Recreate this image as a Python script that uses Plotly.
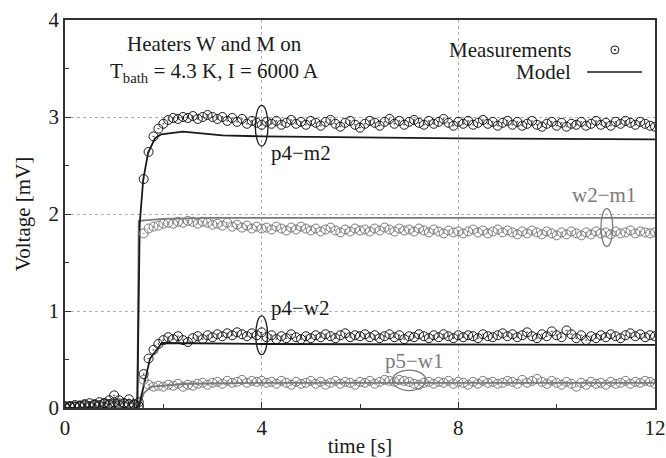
import numpy as np
import plotly.graph_objects as go

# ---------------- data ----------------
time_s = np.round(np.arange(0, 12.001, 0.1), 1)

p4_m2_meas = [0.02,0.01,0.03,0.02,0.04,0.05,0.03,0.06,0.05,0.08,0.13,0.08,0.05,0.09,0.04,0.06,
              2.36,2.64,2.80,2.88,2.93,
              2.97,2.99,2.98,3.00,2.99,3.01,2.98,3.00,3.02,3.00,
              2.98,3.00,2.96,2.99,2.95,2.98,2.93,2.96,2.94,2.92,
              2.95,2.93,2.96,2.92,2.94,2.97,2.93,2.95,2.92,2.96,
              2.94,2.91,2.95,2.97,2.93,2.90,2.94,2.96,2.92,2.89,
              2.93,2.96,2.94,2.91,2.95,2.98,2.93,2.96,2.92,2.95,
              2.97,2.94,2.92,2.96,2.93,2.95,2.98,2.94,2.91,2.95,
              2.93,2.96,2.92,2.94,2.97,2.93,2.95,2.91,2.94,2.96,
              2.92,2.95,2.91,2.93,2.96,2.92,2.90,2.93,2.95,2.91,
              2.94,2.90,2.93,2.92,2.95,2.91,2.93,2.96,2.92,2.94,
              2.91,2.95,2.93,2.96,2.94,2.92,2.95,2.93,2.91,2.90]

w2_m1_meas = [0.01,0.02,0.01,0.03,0.02,0.01,0.03,0.02,0.04,0.02,0.03,0.05,0.02,0.04,0.03,0.02,
              1.80,1.85,1.87,1.88,1.90,
              1.91,1.90,1.92,1.91,1.93,1.92,1.90,1.92,1.91,1.89,
              1.90,1.88,1.91,1.87,1.89,1.86,1.88,1.85,1.87,1.85,
              1.86,1.84,1.87,1.85,1.83,1.86,1.84,1.87,1.85,1.83,
              1.85,1.82,1.84,1.86,1.83,1.81,1.84,1.82,1.85,1.83,
              1.84,1.82,1.85,1.83,1.86,1.84,1.82,1.85,1.83,1.84,
              1.82,1.85,1.83,1.81,1.84,1.82,1.80,1.83,1.81,1.82,
              1.80,1.82,1.84,1.81,1.83,1.80,1.82,1.84,1.81,1.83,
              1.81,1.79,1.82,1.80,1.83,1.81,1.79,1.82,1.80,1.78,
              1.81,1.79,1.82,1.80,1.78,1.81,1.79,1.82,1.80,1.81,
              1.79,1.82,1.80,1.81,1.83,1.80,1.82,1.81,1.80,1.81]

p4_w2_meas = [0.01,0.02,0.01,0.02,0.03,0.02,0.04,0.03,0.05,0.04,0.06,0.03,0.05,0.04,0.03,0.02,
              0.35,0.51,0.60,0.66,0.70,
              0.73,0.71,0.74,0.70,0.68,0.72,0.74,0.71,0.75,0.73,
              0.76,0.74,0.77,0.75,0.78,0.76,0.74,0.77,0.75,0.78,
              0.73,0.75,0.71,0.74,0.72,0.76,0.73,0.71,0.74,0.72,
              0.75,0.73,0.76,0.74,0.72,0.75,0.77,0.73,0.75,0.74,
              0.76,0.73,0.75,0.72,0.74,0.76,0.73,0.75,0.71,0.74,
              0.73,0.76,0.74,0.72,0.75,0.73,0.76,0.74,0.72,0.75,
              0.73,0.75,0.74,0.72,0.76,0.74,0.73,0.75,0.77,0.74,
              0.76,0.73,0.75,0.78,0.74,0.72,0.76,0.74,0.79,0.75,
              0.73,0.80,0.76,0.72,0.75,0.70,0.74,0.72,0.75,0.73,
              0.76,0.74,0.72,0.75,0.77,0.74,0.76,0.73,0.75,0.74]

p5_w1_meas = [0.00,0.01,0.02,0.01,0.02,0.01,0.03,0.02,0.01,0.03,0.02,0.04,0.02,0.03,0.01,0.02,
              0.29,0.24,0.22,0.23,0.22,
              0.24,0.23,0.25,0.22,0.24,0.23,0.25,0.26,0.24,0.26,
              0.27,0.25,0.28,0.26,0.27,0.29,0.26,0.28,0.27,0.28,
              0.26,0.27,0.25,0.28,0.26,0.24,0.27,0.25,0.26,0.28,
              0.25,0.27,0.24,0.26,0.28,0.25,0.27,0.26,0.24,0.27,
              0.26,0.28,0.25,0.27,0.29,0.28,0.27,0.29,0.28,0.27,
              0.25,0.24,0.26,0.27,0.25,0.27,0.26,0.28,0.25,0.27,
              0.26,0.24,0.27,0.25,0.28,0.26,0.27,0.25,0.26,0.28,
              0.27,0.25,0.29,0.26,0.28,0.30,0.27,0.25,0.28,0.26,
              0.24,0.27,0.25,0.22,0.26,0.24,0.27,0.25,0.26,0.24,
              0.27,0.25,0.26,0.28,0.25,0.27,0.26,0.28,0.27,0.25]

model_t_p4_m2 = [0, 1.47, 1.52, 1.59, 1.69, 1.83, 1.95, 2.4, 3.2, 4.0, 8.0, 12.0]
model_p4_m2 = [0, 0, 1.90, 2.35, 2.63, 2.78, 2.82, 2.85, 2.81, 2.80, 2.78, 2.77]

model_t_w2_m1 = [0, 1.47, 1.50, 2.0, 3.0, 12.0]
model_w2_m1 = [0, 0, 1.93, 1.95, 1.96, 1.96]

model_t_p4_w2 = [0, 1.50, 1.73, 1.97, 4.0, 12.0]
model_p4_w2 = [0, 0.01, 0.51, 0.67, 0.66, 0.65]

model_t_p5_w1 = [0, 1.50, 1.60, 1.75, 2.5, 4.0, 12.0]
model_p5_w1 = [0, 0, 0.15, 0.22, 0.25, 0.26, 0.26]

x_ticks = [0, 4, 8, 12]
y_ticks = [0, 1, 2, 3, 4]

# ---------------- styles ----------------
BLACK = "#1a1a1a"
GRAY = "#7a7a7a"
FONT = "'Liberation Serif', 'Times New Roman', Times, serif"
FS = 21

fig = go.Figure()

for tx, vy, col in [(model_t_w2_m1, model_w2_m1, GRAY),
                    (model_t_p5_w1, model_p5_w1, GRAY),
                    (model_t_p4_m2, model_p4_m2, BLACK),
                    (model_t_p4_w2, model_p4_w2, BLACK)]:
    fig.add_trace(go.Scatter(x=tx, y=vy, mode="lines",
                             line=dict(color=col, width=1.8),
                             showlegend=False, hoverinfo="skip"))

for vals, col in [(w2_m1_meas, GRAY), (p5_w1_meas, GRAY),
                  (p4_m2_meas, BLACK), (p4_w2_meas, BLACK)]:
    fig.add_trace(go.Scatter(x=time_s, y=vals, mode="markers",
                             marker=dict(symbol="circle-open-dot", size=9, color=col,
                                         line=dict(width=1, color=col)),
                             showlegend=False))

shapes = []
# ellipses marking the curves
for (cx, cy, wx, hy, col) in [(4.0, 2.91, 0.13, 0.21, BLACK),
                              (11.02, 1.86, 0.12, 0.195, GRAY),
                              (4.0, 0.75, 0.12, 0.20, BLACK),
                              (7.0, 0.285, 0.34, 0.105, GRAY)]:
    shapes.append(dict(type="circle", xref="x", yref="y",
                       x0=cx - wx, x1=cx + wx, y0=cy - hy, y1=cy + hy,
                       line=dict(color=col, width=1.3)))

# legend keys
shapes.append(dict(type="circle", xref="paper", yref="paper", xsizemode="pixel",
                   ysizemode="pixel", xanchor=0.932, yanchor=0.923,
                   x0=-4, x1=4, y0=-4, y1=4, line=dict(color=BLACK, width=1)))
shapes.append(dict(type="circle", xref="paper", yref="paper", xsizemode="pixel",
                   ysizemode="pixel", xanchor=0.932, yanchor=0.923,
                   x0=-0.8, x1=0.8, y0=-0.8, y1=0.8, fillcolor=BLACK,
                   line=dict(color=BLACK, width=0.5)))
shapes.append(dict(type="line", xref="paper", yref="paper",
                   x0=0.885, x1=0.978, y0=0.866, y1=0.866,
                   line=dict(color=BLACK, width=1.6)))

annotations = [
    dict(text="Heaters W and M on<br>T<sub>bath</sub> = 4.3 K, I = 6000 A",
         xref="paper", yref="paper", x=0.253, y=0.90, showarrow=False,
         xanchor="center", yanchor="middle", align="center",
         font=dict(family=FONT, size=FS, color=BLACK)),
    dict(text="Measurements", xref="paper", yref="paper", x=0.861, y=0.923,
         showarrow=False, xanchor="right", yanchor="middle",
         font=dict(family=FONT, size=FS, color=BLACK)),
    dict(text="Model", xref="paper", yref="paper", x=0.861, y=0.866,
         showarrow=False, xanchor="right", yanchor="middle",
         font=dict(family=FONT, size=FS, color=BLACK)),
    dict(text="p4\u2212m2", x=4.15, y=2.63, xref="x", yref="y", showarrow=False,
         xanchor="left", yanchor="middle", font=dict(family=FONT, size=FS, color=BLACK)),
    dict(text="p4\u2212w2", x=4.15, y=1.03, xref="x", yref="y", showarrow=False,
         xanchor="left", yanchor="middle", font=dict(family=FONT, size=FS, color=BLACK)),
    dict(text="w2\u2212m1", x=10.96, y=2.2, xref="x", yref="y", showarrow=False,
         xanchor="center", yanchor="middle", font=dict(family=FONT, size=FS, color=GRAY)),
    dict(text="p5\u2212w1", x=7.1, y=0.48, xref="x", yref="y", showarrow=False,
         xanchor="center", yanchor="middle", font=dict(family=FONT, size=FS, color=GRAY)),
]

axis_common = dict(showline=True, linecolor="#333333", linewidth=1.5, mirror=True,
                   ticks="inside", ticklen=6, tickcolor="#333333", tickwidth=1,
                   showgrid=True, gridcolor="#b0b0b0", griddash="dot", gridwidth=1,
                   zeroline=False, automargin=False,
                   tickfont=dict(family=FONT, size=FS, color=BLACK))

fig.update_layout(
    width=666, height=458,
    margin=dict(l=65, r=11, t=20, b=50),
    plot_bgcolor="white", paper_bgcolor="white",
    font=dict(family=FONT, size=FS, color=BLACK),
    shapes=shapes, annotations=annotations,
    xaxis=dict(range=[0, 12], tickvals=x_ticks,
               minor=dict(dtick=2, ticks="inside", ticklen=4, tickcolor="#333333", showgrid=False),
               title=dict(text="time [s]", font=dict(family=FONT, size=FS, color=BLACK), standoff=2),
               **axis_common),
    yaxis=dict(range=[0, 4], tickvals=y_ticks,
               minor=dict(dtick=0.5, ticks="inside", ticklen=4, tickcolor="#333333", showgrid=False),
               title=dict(text="Voltage [mV]", font=dict(family=FONT, size=FS, color=BLACK), standoff=12),
               **axis_common),
)

fig.write_html("out.html", config={"displayModeBar": False},
               post_script="document.body.style.margin='0';document.body.style.overflow='hidden';")
